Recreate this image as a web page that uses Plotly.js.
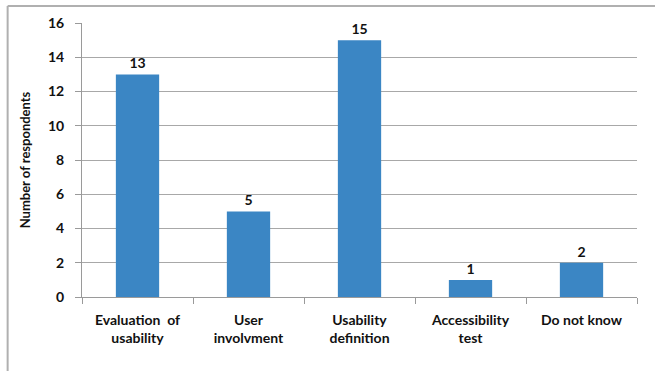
<!DOCTYPE html>
<html>
<head>
<meta charset="utf-8">
<script src="https://cdn.plot.ly/plotly-3.0.1.min.js"></script>
<style>
  html, body { margin: 0; padding: 0; background: #fff; }
  #chart { width: 655px; height: 371px; }
</style>
</head>
<body>
<div id="chart"></div>
<script>
// Survey answers: what respondents associate with usability work
const categories = [
  "Evaluation  of<br>usability",
  "User<br>involvment",
  "Usability<br>definition",
  "Accessibility<br>test",
  "Do not know"
];
const respondents = [13, 5, 15, 1, 2];
const yTicks = [0, 2, 4, 6, 8, 10, 12, 14, 16];

const labelFont = { family: "Lato, 'Open Sans', sans-serif", size: 14, color: "#111", weight: 700 };
const tickFont = { family: "Lato, 'Open Sans', sans-serif", size: 14, color: "#111", weight: 700 };

const trace = {
  type: "bar",
  x: categories,
  y: respondents,
  text: respondents.map(String),
  textposition: "outside",
  cliponaxis: false,
  textfont: labelFont,
  marker: { color: "#3b86c4", line: { width: 0 } },
  hoverinfo: "x+y"
};

const layout = {
  width: 655,
  height: 371,
  margin: { l: 82, r: 18, t: 23, b: 74 },
  paper_bgcolor: "#fff",
  plot_bgcolor: "#fff",
  bargap: 0.61,
  showlegend: false,
  font: labelFont,
  xaxis: {
    type: "category",
    showgrid: false,
    showline: true,
    linecolor: "#9a9a9a",
    linewidth: 1,
    ticks: "outside",
    tickson: "boundaries",
    ticklen: 6,
    tickcolor: "#9a9a9a",
    tickfont: tickFont,
    ticklabelstandoff: 10,
    fixedrange: true
  },
  yaxis: {
    range: [0, 16],
    tickvals: yTicks,
    ticktext: yTicks.map(String),
    showgrid: true,
    gridcolor: "#a8a8a8",
    gridwidth: 1,
    zeroline: false,
    showline: true,
    linecolor: "#9a9a9a",
    linewidth: 1,
    ticks: "outside",
    ticklen: 6,
    tickcolor: "#9a9a9a",
    tickfont: tickFont,
    ticklabelstandoff: 8,
    title: { text: "Number of respondents", font: { ...labelFont, size: 13 }, standoff: 14 },
    fixedrange: true
  },
  // outer chart frame (left and top edges)
  shapes: [
    { type: "line", xref: "paper", yref: "paper", x0: -0.134, x1: 1.04, y0: 1.062, y1: 1.062,
      line: { color: "#b0b0b0", width: 2 } },
    { type: "line", xref: "paper", yref: "paper", x0: -0.134, x1: -0.134, y0: 1.062, y1: -0.3,
      line: { color: "#b0b0b0", width: 2 } }
  ]
};

Plotly.newPlot("chart", [trace], layout, { displayModeBar: false, staticPlot: true });
</script>
</body>
</html>
